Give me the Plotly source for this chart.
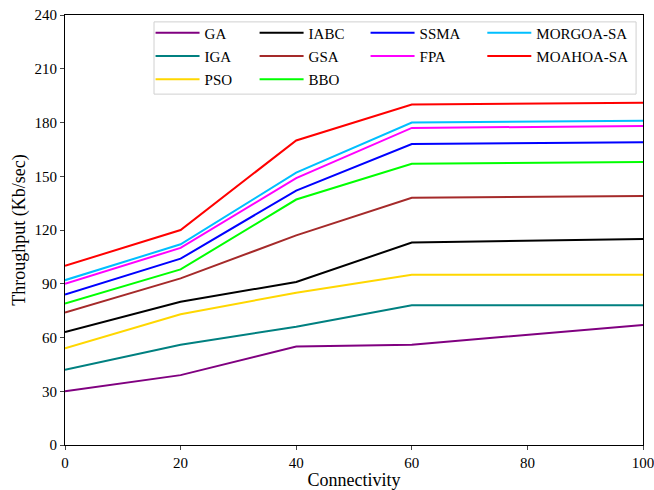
import plotly.graph_objects as go

connectivity = [0, 20, 40, 60, 100]
names = ["GA", "IGA", "PSO", "IABC", "GSA", "BBO", "SSMA", "FPA", "MORGOA-SA", "MOAHOA-SA"]
GA = [30, 39, 55, 56, 67]
IGA = [42, 56, 66, 78, 78]
PSO = [54, 73, 85, 95, 95]
IABC = [63, 80, 91, 113, 115]
GSA = [74, 93, 117, 138, 139]
BBO = [79, 98, 137, 157, 158]
SSMA = [84, 104, 142, 168, 169]
FPA = [90, 110, 149, 177, 178]
MORGOA_SA = [92, 112, 152, 180, 181]
MOAHOA_SA = [100, 120, 170, 190, 191]
series = [GA, IGA, PSO, IABC, GSA, BBO, SSMA, FPA, MORGOA_SA, MOAHOA_SA]
colors = ["#800080", "#008080", "#FFD700", "#000000", "#A52A2A", "#00FF00",
          "#0000FF", "#FF00FF", "#00BFFF", "#FF0000"]
xticks = [0, 20, 40, 60, 80, 100]
yticks = [0, 30, 60, 90, 120, 150, 180, 210, 240]

FONT = "Liberation Serif"
# legend grid (column, row) for each series, matching the reference layout
leg_pos = [(0, 0), (0, 1), (0, 2), (1, 0), (1, 1), (1, 2), (2, 0), (2, 1), (3, 0), (3, 1)]
leg_cols = [0.148, 0.328, 0.520, 0.722]
leg_rows = [0.958, 0.904, 0.850]

fig = go.Figure()
layout_legends = {}
for i, (n, s, c) in enumerate(zip(names, series, colors)):
    key = "legend" if i == 0 else f"legend{i+1}"
    fig.add_trace(go.Scatter(x=connectivity, y=s, mode="lines", name=n, showlegend=True,
                             line=dict(color=c, width=2), legend=key))
    col, row = leg_pos[i]
    layout_legends[key] = dict(x=leg_cols[col], y=leg_rows[row], xanchor="left", yanchor="middle",
                               bgcolor="rgba(0,0,0,0)", borderwidth=0, itemwidth=44,
                               font=dict(family=FONT, size=15, color="black"))

fig.update_layout(
    width=654, height=490,
    showlegend=True,
    margin=dict(l=65, r=11, t=15, b=45),
    plot_bgcolor="white", paper_bgcolor="white",
    font=dict(family=FONT, size=15, color="black"),
    xaxis=dict(range=[0, 100], tickvals=xticks, ticks="outside", ticklen=4,
               showline=True, linecolor="black", linewidth=1, mirror=True,
               showgrid=False, zeroline=False, automargin=False, ticklabeloverflow="allow",
               title=dict(text="Connectivity", font=dict(family=FONT, size=18), standoff=3),
               tickfont=dict(family=FONT, size=15)),
    yaxis=dict(range=[0, 240], tickvals=yticks, ticks="outside", ticklen=4,
               showline=True, linecolor="black", linewidth=1, mirror=True,
               showgrid=False, zeroline=False, automargin=False, ticklabeloverflow="allow",
               title=dict(text="Throughput (Kb/sec)", font=dict(family=FONT, size=18), standoff=4),
               tickfont=dict(family=FONT, size=15)),
    **layout_legends,
)
fig.add_shape(type="rect", xref="paper", yref="paper", x0=0.154, x1=0.988, y0=0.816, y1=0.984,
              line=dict(color="#d0d0d0", width=1), fillcolor="rgba(255,255,255,0.8)", layer="below")
fig.write_html("out.html")
